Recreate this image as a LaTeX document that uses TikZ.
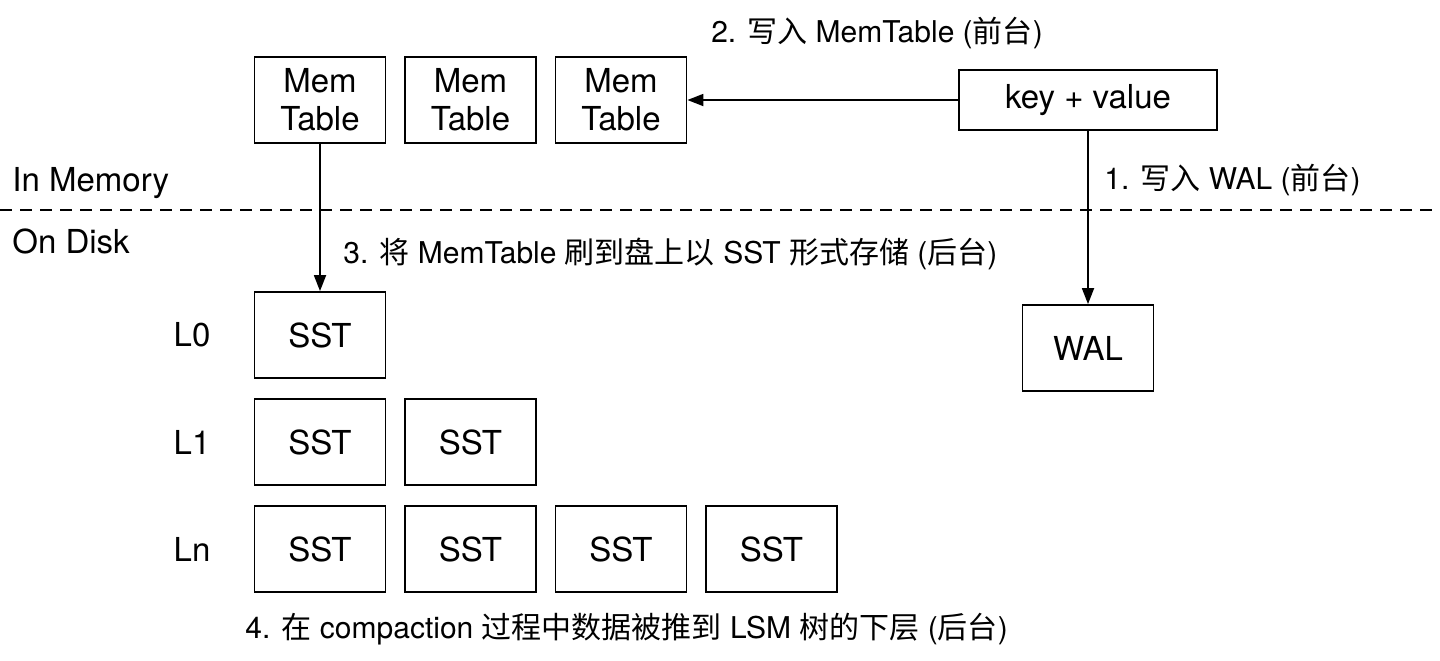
\documentclass[tikz,border=0pt]{standalone}
\usepackage{fontspec}
\setmainfont{TeX Gyre Heros}
\newfontfamily\cjk{Noto Sans CJK SC}
\usetikzlibrary{arrows.meta,positioning}

\begin{document}
\begin{tikzpicture}[x=0.5pt,y=-0.5pt,>={Triangle[length=8pt,width=6pt]},
  node distance=75.25pt,on grid,
  box/.style={draw,line width=0.9pt,minimum width=65.5pt,minimum height=43pt,
    align=center,inner sep=0pt,font=\fontsize{16.5}{19}\selectfont},
  lbl/.style={font=\fontsize{15}{18}\selectfont,inner sep=0pt},
  link/.style={->,line width=0.9pt}]
  \useasboundingbox (0,0) rectangle (1440,660);
  % memory side
  \node[box]  (M1) at (320,100)         {Mem\\Table};
  \node[box]  (M2) [right=of M1]        {Mem\\Table};
  \node[box]  (M3) [right=of M2]        {Mem\\Table};
  \node[box,minimum width=129pt,minimum height=30pt] (KV) at (1088,100) {key + value};
  \node[box]  (WAL) at (1088,348)       {WAL};
  % disk levels
  \node[box]  (S0) at (320,335)         {SST};
  \node[box]  (S1) [below=53.5pt of S0] {SST};
  \node[box]  (S1b) [right=of S1]       {SST};
  \node[box]  (Sn) [below=53.5pt of S1] {SST};
  \node[box]  (Snb) [right=of Sn]       {SST};
  \node[box]  (Snc) [right=of Snb]      {SST};
  \node[box]  (Snd) [right=of Snc]      {SST};
  \node[lbl,font=\fontsize{16.5}{19}\selectfont] (L0) [left=64pt of S0] {L0};
  \node[lbl,font=\fontsize{16.5}{19}\selectfont] (L1) [left=64pt of S1] {L1};
  \node[lbl,font=\fontsize{16.5}{19}\selectfont] (Ln) [left=64pt of Sn] {Ln};
  % boundary
  \coordinate (DL) at (0,210);
  \coordinate (DR) at (1440,210);
  \draw[dashed,line width=0.9pt,dash pattern=on 6pt off 4pt] (DL) -- (DR);
  \node[lbl,anchor=west,font=\fontsize{16.5}{19}\selectfont] (MEM) at (12,183) {In Memory};
  \node[lbl,anchor=west,font=\fontsize{16.5}{19}\selectfont] (DISK) at (12,241) {On Disk};
  % steps
  \draw[link] (KV) -- (M3);
  \draw[link] (KV) -- (WAL);
  \draw[link] (M1) -- (S0);
  \node[lbl] (T2) at (877,33) {2. {\cjk 写入} MemTable ({\cjk 前台})};
  \node[lbl,anchor=west] (T1) at (1104,180) {1. {\cjk 写入} WAL ({\cjk 前台})};
  \node[lbl,anchor=west] (T3) at (343,254)
    {3. {\cjk 将} MemTable {\cjk 刷到盘上以} SST {\cjk 形式存储} ({\cjk 后台})};
  \node[lbl,anchor=west] (T4) at (245,629)
    {4. {\cjk 在} compaction {\cjk 过程中数据被推到} LSM {\cjk 树的下层} ({\cjk 后台})};
\end{tikzpicture}
\end{document}
